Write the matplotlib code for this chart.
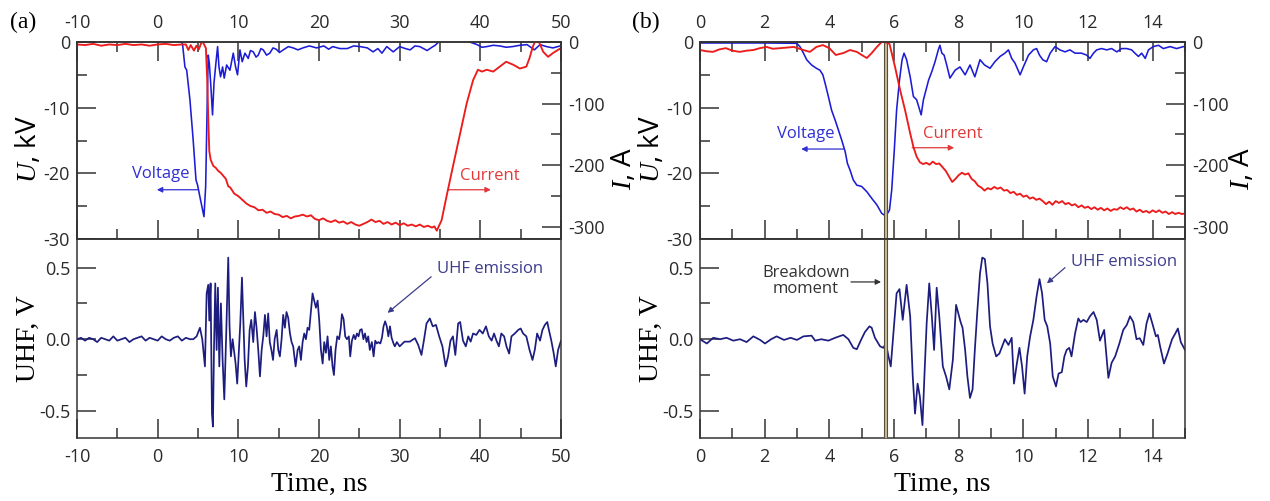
import matplotlib
matplotlib.use("Agg")
import matplotlib.pyplot as plt
from matplotlib.ticker import MultipleLocator, FormatStrFormatter

# ---------------- data ----------------
# (a) long time window, -10 ... 50 ns
a_volt_t = [-10, -7, -4, -1, 2, 3.0, 3.1, 3.38, 3.6, 4.0, 4.4, 4.75, 4.95, 5.24, 5.74, 5.95,
            6.15, 6.27, 6.4, 6.6, 6.8, 6.98, 7.22, 7.43, 7.6, 7.8, 8.05, 8.25, 8.55, 8.96,
            9.37, 9.66, 9.9, 10.2, 10.48, 10.82, 11.23, 11.5, 11.85, 12.2, 12.47, 12.8, 13.09,
            13.5, 13.9, 14.3, 14.7, 15.1, 15.57, 16.2, 16.8, 17.4, 18.0, 18.8, 19.7, 20.6,
            21.2, 21.7, 22.6, 23.5, 24.3, 25.1, 26.0, 26.7, 27.3, 27.8, 28.4, 29.2, 30.0,
            30.7, 31.3, 31.9, 32.5, 33.4, 34.0, 34.4, 35.0, 36.5, 38.0, 39.6, 40.2, 40.8,
            41.6, 42.4, 43.2, 44.0, 44.9, 45.8, 46.7, 47.4, 48.2, 49.0, 49.9, 50]
a_volt_u = [0.1, 0.1, 0.1, 0.1, 0.1, 0.0, -0.5, -3.8, -4.3, -8.8, -14.9, -21.0, -21.8, -23.6,
            -26.6, -22.0, -8.8, -2.0, -3.2, -6.8, -11.1, -6.3, -3.2, -0.7, -3.8, -5.3, -3.8,
            -5.5, -3.5, -4.3, -1.7, -3.8, -5.0, -1.2, -3.0, -1.7, -2.5, -1.3, -1.5, -2.3,
            -2.0, -1.0, -1.2, -2.0, -1.7, -0.9, -1.1, -1.6, -1.2, -0.7, -0.9, -1.2, -0.9,
            -0.6, -0.9, -0.6, -1.1, -0.7, -1.0, -1.0, -0.6, -0.7, -0.9, -1.5, -1.0, -1.7,
            -0.7, -1.5, -0.7, -1.0, -1.2, -0.6, -0.7, -1.3, -0.8, -0.5, 0.2, 0.3, 0.3, -0.4,
            -0.8, -0.7, -0.5, -0.6, -0.8, -0.7, -0.5, -0.4, -1.2, -0.4, -0.7, -0.9, -0.6,
            -0.6]

a_curr_t = [-10, -9, -8, -7, -6, -5, -4, -3, -2, -1, 0, 1, 2, 3, 3.5, 3.8, 4.1, 4.5, 4.8,
            5.1, 5.45, 5.6, 5.98, 6.15, 6.28, 6.4, 6.57, 6.9, 7.2, 7.5, 7.8, 8.13, 8.45,
            8.75, 9.0, 9.5, 10.0, 10.5, 11.0, 11.5, 12.0, 12.5, 13.0, 13.5, 14.0, 14.5,
            15.0, 15.5, 16.0, 16.5, 17.0, 17.5, 18.0, 18.5, 19.0, 19.5, 20.0, 20.5, 21.0,
            21.5, 22.0, 22.5, 23.0, 23.5, 24.0, 24.5, 25.0, 25.5, 26.0, 26.5, 27.0, 27.5,
            28.0, 28.5, 29.0, 29.5, 30.0, 30.5, 31.0, 31.5, 32.0, 32.5, 33.0, 33.5, 34.0,
            34.3, 34.6, 35.2, 35.8, 36.6, 37.5, 38.3, 39.1, 39.7, 40.2, 40.8, 41.6, 42.4,
            43.2, 44.1, 44.9, 45.7, 46.1, 46.5, 46.75, 47.2, 47.8, 48.4, 49.0, 49.6, 50]
a_curr_i = [-4, -5, -3, -6, -4, -5, -3, -5, -4, -6, -4, -3, -5, -4, -4, -13, -5, -14, -6,
            -12, 0, 0, -10, -64, -128, -177, -191, -201, -204, -209, -212, -217, -222,
            -234, -236, -246, -250, -256, -262, -266, -268, -273, -272, -277, -275, -279,
            -280, -284, -282, -286, -283, -282, -280, -283, -281, -287, -289, -286, -290,
            -292, -289, -293, -291, -295, -292, -296, -298, -295, -292, -288, -292, -290,
            -295, -292, -296, -293, -297, -294, -298, -296, -299, -296, -300, -298, -301,
            -299, -306, -289, -251, -202, -148, -100, -62, -45, -48, -45, -48, -40, -32,
            -37, -43, -40, -26, -8, 0, 2, -16, -24, -18, -13, -10]

a_uhf_t = [-10, -9.5, -9, -8.5, -8, -7.5, -7, -6.5, -6, -5.5, -5, -4.5, -4, -3.5, -3, -2.5,
           -2, -1.5, -1, -0.5, 0, 0.5, 1, 1.5, 2, 2.5, 3, 3.5, 4, 4.41, 4.83, 5.24, 5.53,
           5.86, 6.07, 6.27, 6.4, 6.56, 6.73, 6.85, 6.98, 7.14, 7.31, 7.47, 7.64, 7.84,
           8.05, 8.26, 8.5, 8.75, 8.91, 9.08, 9.29, 9.45, 9.66, 9.86, 10.03, 10.24, 10.45,
           10.61, 10.78, 10.98, 11.19, 11.4, 11.6, 11.85, 12.06, 12.26, 12.47, 12.68,
           12.89, 13.09, 13.3, 13.5, 13.7, 13.9, 14.1, 14.3, 14.5, 14.75, 14.95, 15.15,
           15.36, 15.56, 15.77, 15.97, 16.18, 16.4, 16.6, 16.8, 17.1, 17.35, 17.55, 17.76,
           17.97, 18.17, 18.38, 18.58, 18.79, 19.0, 19.2, 19.4, 19.62, 19.83, 20.03, 20.24,
           20.45, 20.65, 20.86, 21.06, 21.27, 21.47, 21.68, 21.85, 22.05, 22.26, 22.5,
           22.7, 22.84, 23.05, 23.25, 23.46, 23.7, 23.87, 24.08, 24.3, 24.5, 24.7, 24.9,
           25.1, 25.3, 25.5, 25.7, 25.9, 26.1, 26.3, 26.55, 26.77, 26.97, 27.17, 27.35,
           27.6, 27.8, 28.0, 28.2, 28.4, 28.6, 28.8, 29.0, 29.24, 29.4, 29.65, 30.0, 30.6,
           31.26, 31.9, 32.3, 32.7, 33.0, 33.33, 33.74, 34.1, 34.5, 34.9, 35.3, 35.7, 36.0,
           36.3, 36.6, 36.9, 37.25, 37.5, 37.85, 38.2, 38.5, 38.8, 39.1, 39.5, 39.9, 40.3,
           40.7, 41.05, 41.4, 41.7, 42.0, 42.3, 42.6, 42.95, 43.24, 43.57, 43.86, 44.27,
           44.7, 45.0, 45.3, 45.7, 46.1, 46.47, 46.75, 47.04, 47.4, 47.7, 48.0, 48.3, 48.5,
           48.8, 49.1, 49.35, 49.64, 50.0]
a_uhf_v = [0.0, 0.01, -0.01, 0.01, 0.0, -0.02, 0.01, 0.0, -0.01, 0.02, -0.01, 0.0, 0.01,
           -0.02, 0.0, 0.01, 0.02, -0.01, 0.01, 0.0, -0.01, 0.02, 0.0, -0.01, 0.01, 0.02,
           -0.01, 0.01, 0.0, 0.0, 0.02, 0.08, 0.0, -0.19, 0.32, 0.38, 0.13, 0.39, -0.52,
           -0.61, -0.075, 0.39, -0.075, 0.36, -0.19, 0.25, -0.145, -0.42, 0.04, 0.57, 0.09,
           -0.12, 0.0, -0.075, -0.17, -0.31, -0.12, 0.11, 0.43, 0.16, -0.14, -0.33, -0.19,
           0.065, 0.135, -0.02, 0.19, 0.08, -0.075, -0.26, -0.075, 0.02, 0.17, 0.02, 0.18,
           -0.02, -0.075, -0.145, 0.0, 0.065, -0.075, -0.12, 0.0, 0.17, 0.08, 0.19, 0.15,
           0.04, -0.02, -0.05, -0.19, -0.075, -0.05, -0.145, -0.02, 0.04, 0.0, 0.08, 0.065,
           0.2, 0.32, 0.27, 0.22, 0.27, 0.13, -0.075, -0.17, -0.02, -0.095, 0.02, -0.145,
           -0.05, -0.19, -0.25, -0.075, 0.02, 0.0, 0.08, 0.175, 0.14, 0.02, 0.0, 0.02,
           -0.12, -0.01, 0.03, 0.0, 0.04, 0.02, 0.065, 0.07, 0.0, 0.04, -0.02, 0.02, -0.075,
           -0.02, -0.12, -0.01, -0.03, -0.02, -0.03, 0.01, 0.09, 0.125, 0.09, 0.02, 0.09,
           0.01, -0.03, -0.05, -0.02, -0.05, -0.017, -0.017, 0.007, -0.04, -0.11, -0.01,
           0.11, 0.145, 0.09, 0.1, 0.02, -0.05, -0.19, -0.12, -0.01, 0.02, -0.11, 0.11,
           0.12, -0.01, -0.05, 0.02, -0.017, 0.04, 0.03, 0.065, 0.04, 0.09, 0.02, -0.01,
           0.04, -0.01, -0.05, 0.04, 0.02, -0.05, -0.1, 0.02, 0.04, 0.065, 0.075, 0.04,
           0.02, -0.075, -0.145, -0.075, 0.04, -0.01, 0.065, 0.1, 0.12, 0.065, -0.01, -0.1,
           -0.19, -0.075, -0.01]

# (b) short time window, 0 ... 15 ns
b_volt_t = [0, 1, 2, 2.99, 3.09, 3.2, 3.3, 3.45, 3.6, 3.71, 3.8, 3.87, 3.97, 4.07, 4.18,
            4.28, 4.38, 4.49, 4.56, 4.64, 4.74, 4.85, 5.0, 5.16, 5.31, 5.47, 5.62, 5.75,
            5.86, 5.93, 6.01, 6.08, 6.17, 6.25, 6.31, 6.39, 6.5, 6.6, 6.7, 6.78, 6.84, 6.91,
            6.99, 7.07, 7.17, 7.27, 7.37, 7.42, 7.48, 7.55, 7.63, 7.73, 7.89, 8.04, 8.2,
            8.35, 8.5, 8.66, 8.8, 8.97, 9.12, 9.28, 9.43, 9.54, 9.64, 9.74, 9.9, 10.0,
            10.16, 10.31, 10.41, 10.5, 10.6, 10.72, 10.83, 10.98, 11.13, 11.29, 11.44, 11.6,
            11.8, 11.96, 12.06, 12.17, 12.27, 12.42, 12.58, 12.73, 12.89, 13.04, 13.2,
            13.35, 13.45, 13.56, 13.66, 13.77, 13.87, 14.02, 14.18, 14.33, 14.54, 14.74,
            14.95, 15.0]
b_volt_u = [-0.15, -0.15, -0.15, -0.2, -0.7, -1.7, -2.7, -3.5, -4.0, -4.3, -5.0, -6.3, -8.3,
            -10.4, -11.9, -13.4, -14.9, -16.7, -18.5, -19.5, -21.0, -21.8, -22.0, -22.8,
            -23.8, -24.8, -26.1, -26.5, -25.6, -22.5, -16.4, -10.4, -5.8, -2.7, -1.7, -2.7,
            -5.3, -8.3, -8.8, -10.1, -11.1, -8.8, -7.3, -5.8, -4.5, -3.0, -1.2, -0.5, -1.7,
            -2.0, -3.5, -5.5, -4.3, -3.8, -5.0, -3.5, -5.3, -2.7, -3.5, -4.0, -3.0, -2.2,
            -1.7, -1.2, -2.5, -3.2, -5.0, -3.8, -2.0, -1.2, -1.0, -2.0, -2.7, -3.0, -1.7,
            -0.7, -1.2, -1.5, -1.2, -1.7, -1.7, -2.0, -2.5, -1.7, -1.2, -1.0, -1.2, -1.0,
            -1.5, -1.0, -1.0, -1.2, -1.7, -2.2, -1.7, -2.5, -1.2, -0.7, -0.5, -1.0, -0.7,
            -1.0, -0.7, -0.7]

b_curr_t = [0, 0.2, 0.4, 0.6, 0.8, 1.0, 1.23, 1.45, 1.65, 1.85, 2.06, 2.25, 2.47, 2.7, 2.9,
            3.2, 3.4, 3.6, 3.8, 4.0, 4.2, 4.43, 4.64, 4.85, 5.0, 5.16, 5.31, 5.47, 5.62,
            5.72, 5.86, 6.03, 6.19, 6.34, 6.5, 6.6, 6.7, 6.8, 6.9, 7.0, 7.1, 7.2, 7.3, 7.4,
            7.5, 7.6, 7.7, 7.8, 7.9, 8.0, 8.1, 8.2, 8.3, 8.4, 8.5, 8.6, 8.7, 8.8, 8.9, 9.0,
            9.1, 9.2, 9.3, 9.4, 9.5, 9.6, 9.7, 9.8, 9.9, 10.0, 10.1, 10.2, 10.3, 10.4, 10.5,
            10.6, 10.7, 10.8, 10.9, 11.0, 11.1, 11.2, 11.3, 11.4, 11.5, 11.6, 11.7, 11.8,
            11.9, 12.0, 12.1, 12.2, 12.3, 12.4, 12.5, 12.6, 12.7, 12.8, 12.9, 13.0, 13.1,
            13.2, 13.3, 13.4, 13.5, 13.6, 13.7, 13.8, 13.9, 14.0, 14.1, 14.2, 14.3, 14.4,
            14.5, 14.6, 14.7, 14.8, 14.9, 15.0]
b_curr_i = [-13, -15, -16, -12, -10, -14, -16, -14, -13, -10, -8, -11, -10, -9, -8, -13, -16,
            -8, -5, -10, -21, -18, -13, -16, -21, -26, -18, -8, 0, 0, -3, -40, -78, -110,
            -148, -170, -186, -195, -198, -196, -199, -194, -198, -197, -203, -209, -218,
            -227, -222, -216, -212, -215, -213, -222, -226, -233, -236, -241, -237, -239,
            -235, -238, -236, -241, -240, -245, -243, -248, -246, -251, -249, -254, -252,
            -256, -254, -258, -263, -259, -264, -258, -261, -258, -263, -261, -265, -263,
            -268, -265, -269, -267, -271, -268, -272, -269, -273, -270, -274, -271, -272,
            -268, -271, -268, -272, -270, -275, -272, -276, -274, -277, -273, -276, -273,
            -277, -275, -279, -276, -279, -277, -279, -278]

b_uhf_t = [0, 0.21, 0.41, 0.62, 0.82, 1.03, 1.24, 1.44, 1.65, 1.86, 2.01, 2.2, 2.37, 2.6,
           2.8, 3.0, 3.2, 3.45, 3.56, 3.75, 3.97, 4.18, 4.43, 4.59, 4.74, 4.85, 4.97, 5.1,
           5.24, 5.31, 5.41, 5.57, 5.67, 5.75, 5.83, 5.9, 5.98, 6.08, 6.17, 6.27, 6.39, 6.5,
           6.58, 6.65, 6.73, 6.8, 6.88, 6.94, 7.01, 7.09, 7.17, 7.24, 7.32, 7.4, 7.51, 7.61,
           7.71, 7.82, 7.92, 7.99, 8.06, 8.12, 8.2, 8.27, 8.35, 8.43, 8.5, 8.58, 8.66, 8.73,
           8.81, 8.89, 8.97, 9.05, 9.16, 9.26, 9.36, 9.43, 9.54, 9.64, 9.71, 9.8, 9.88,
           9.96, 10.04, 10.12, 10.21, 10.31, 10.41, 10.5, 10.58, 10.66, 10.74, 10.83,
           10.91, 11.01, 11.09, 11.19, 11.27, 11.34, 11.42, 11.49, 11.6, 11.7, 11.77,
           11.86, 11.96, 12.06, 12.17, 12.27, 12.37, 12.5, 12.63, 12.73, 12.84, 12.97,
           13.09, 13.2, 13.3, 13.4, 13.5, 13.6, 13.71, 13.81, 13.9, 13.99, 14.1, 14.16,
           14.23, 14.35, 14.46, 14.6, 14.7, 14.78, 14.87, 15.0]
b_uhf_v = [0.0, -0.03, 0.01, 0.0, 0.01, -0.01, 0.0, -0.02, 0.02, -0.005, -0.03, 0.0, 0.02,
           -0.005, 0.01, -0.005, 0.02, 0.025, -0.01, 0.0, -0.01, 0.01, 0.03, 0.0, -0.06,
           -0.07, -0.01, 0.05, 0.09, 0.08, 0.01, -0.05, -0.06, -0.03, -0.12, -0.19, 0.04,
           0.32, 0.35, 0.135, 0.38, 0.16, -0.26, -0.52, -0.31, -0.4, -0.6, -0.26, 0.11,
           0.39, 0.16, -0.075, 0.36, 0.16, -0.19, -0.26, -0.35, -0.145, 0.24, 0.18, 0.12,
           0.08, -0.075, -0.26, -0.41, -0.35, -0.075, 0.205, 0.46, 0.57, 0.56, 0.39, 0.09,
           -0.03, -0.12, -0.1, -0.04, 0.0, -0.04, 0.01, -0.31, -0.17, -0.06, -0.19, -0.38,
           -0.12, 0.02, 0.135, 0.3, 0.42, 0.32, 0.135, 0.09, -0.03, -0.26, -0.33, -0.24,
           -0.23, -0.12, -0.075, -0.06, -0.12, 0.04, 0.145, 0.12, 0.135, 0.12, 0.16, 0.19,
           0.135, -0.01, 0.065, -0.27, -0.165, -0.12, -0.03, 0.065, 0.1, 0.16, 0.12, 0.0,
           0.007, -0.04, 0.11, 0.18, 0.11, 0.02, 0.03, -0.05, -0.17, -0.1, 0.0, 0.04,
           0.075, -0.02, -0.075]

breakdown_t = (5.69, 5.77)

# ---------------- style ----------------
plt.rcParams['font.family'] = ['Open Sans', 'DejaVu Sans']
plt.rcParams['axes.unicode_minus'] = False
plt.rcParams['mathtext.fontset'] = 'custom'
plt.rcParams['mathtext.rm'] = 'Liberation Serif'
plt.rcParams['mathtext.it'] = 'Liberation Serif:italic'

C_VOLT = '#1c1cd6'
C_CURR = '#ec1c1c'
C_UHF = '#1d1d80'
C_AX = '#333333'
SERIF = 'Liberation Serif'
W, H = 1270, 501

fig = plt.figure(figsize=(W / 100, H / 100), dpi=100)


def rect(l, t, r, b):
    return [l / W, 1 - b / H, (r - l) / W, (b - t) / H]


def style_ticks(ax, **kw):
    ax.tick_params(which='both', direction='in', colors=C_AX, width=1.1,
                   labelsize=13, labelcolor='#2a2a2a', **kw)
    ax.tick_params(which='major', length=13.5)
    ax.tick_params(which='minor', length=7)
    for s in ax.spines.values():
        s.set_color(C_AX)
        s.set_linewidth(1.1)


def panel(x0, x1, xlim, xmaj, xmin, data, tag, ilabel_x):
    (vt, vu, ct, ci, ut, uv) = data
    up = fig.add_axes(rect(x0, 42, x1, 239))
    lo = fig.add_axes(rect(x0, 239, x1, 438))
    for ax in (up, lo):
        ax.set_xlim(*xlim)
        ax.xaxis.set_major_locator(MultipleLocator(xmaj))
        ax.xaxis.set_minor_locator(MultipleLocator(xmin))

    # voltage (left scale)
    up.plot(vt, vu, color=C_VOLT, lw=1.15)
    up.set_ylim(-30, 0)
    up.yaxis.set_major_locator(MultipleLocator(10))
    up.yaxis.set_minor_locator(MultipleLocator(5))
    style_ticks(up, top=True, bottom=True, labeltop=True, labelbottom=False,
                left=True, right=False, pad=5)
    up.tick_params(axis='x', pad=7)
    up.set_ylabel('$U$, kV', fontsize=20)
    up.yaxis.set_label_coords(-0.10, 0.455)
    up.yaxis.label.set_verticalalignment('center')

    # current (right scale)
    cr = up.twinx()
    cr.plot(ct, ci, color=C_CURR, lw=1.35)
    cr.set_ylim(-319.5, 0)
    cr.yaxis.set_major_locator(MultipleLocator(100))
    cr.yaxis.set_minor_locator(MultipleLocator(50))
    style_ticks(cr, right=True, left=False, labelright=True, pad=5)
    cr.set_ylabel('$I$, A', fontsize=20)
    cr.yaxis.set_label_coords(ilabel_x, 0.36)
    cr.yaxis.label.set_verticalalignment('center')
    cr.yaxis.label.set_rotation(90)

    # UHF signal
    lo.plot(ut, uv, color=C_UHF, lw=1.25)
    lo.set_ylim(-0.69, 0.70)
    lo.yaxis.set_major_locator(MultipleLocator(0.5))
    lo.yaxis.set_minor_locator(MultipleLocator(0.25))
    lo.yaxis.set_major_formatter(FormatStrFormatter('%.1f'))
    style_ticks(lo, top=False, bottom=True, left=True, right=False, pad=5)
    lo.tick_params(axis='x', pad=7)
    lo.set_ylabel('UHF, V', fontsize=20, family=SERIF)
    lo.yaxis.set_label_coords(-0.10, 0.5)
    lo.yaxis.label.set_verticalalignment('center')
    lo.set_xlabel('Time, ns', fontsize=20, family=SERIF)
    lo.xaxis.set_label_coords(0.5, -0.235)
    lo.xaxis.label.set_verticalalignment('center')

    fig.text((x0 - 54) / W, 1 - 22 / H, tag, family=SERIF, fontsize=17,
             ha='center', va='center')
    return up, cr, lo


def note(ax, text, xy_text, color, arrow_from=None, arrow_to=None, **kw):
    ax.text(*xy_text, text, color=color, fontsize=12, ha='center', va='center', **kw)
    if arrow_from is not None:
        ax.annotate('', xy=arrow_to, xytext=arrow_from,
                    arrowprops=dict(arrowstyle='-|>', color=color, lw=0.9,
                                    mutation_scale=8, shrinkA=0, shrinkB=0))


# ---------------- panel (a) ----------------
ua, ca, la = panel(77, 561, (-10, 50), 10, 5,
                   (a_volt_t, a_volt_u, a_curr_t, a_curr_i, a_uhf_t, a_uhf_v), '(a)', 1.13)
note(ua, 'Voltage', (0.35, -20.1), '#2f2fd2', (5.0, -22.5), (-0.1, -22.5))
note(ua, 'Current', (41.2, -20.4), '#e2383a', (36.0, -22.5), (41.3, -22.5))
note(la, 'UHF emission', (41.2, 0.49), '#3c3c8c', (33.9, 0.436), (28.5, 0.184))

# ---------------- panel (b) ----------------
ub, cb, lb = panel(700, 1185, (0, 15), 2, 1,
                   (b_volt_t, b_volt_u, b_curr_t, b_curr_i, b_uhf_t, b_uhf_v), '(b)', 1.117)
note(ub, 'Voltage', (3.26, -14.0), '#2f2fd2', (4.46, -16.3), (3.13, -16.3))
note(ub, 'Current', (7.83, -14.0), '#e2383a', (6.56, -16.1), (7.86, -16.1))
note(lb, 'UHF emission', (13.11, 0.54), '#3c3c8c', (11.29, 0.50), (10.73, 0.39))
note(lb, 'Breakdown\nmoment', (3.28, 0.41), '#333333', (4.67, 0.40), (5.6, 0.40),
     linespacing=1.0)

# breakdown marker spanning both plots of (b)
for ax in (ub, lb):
    ax.axvspan(*breakdown_t, facecolor='#cbbb98', edgecolor='#55503f', lw=0.8, zorder=3)

fig.savefig('out.png', dpi=100)
